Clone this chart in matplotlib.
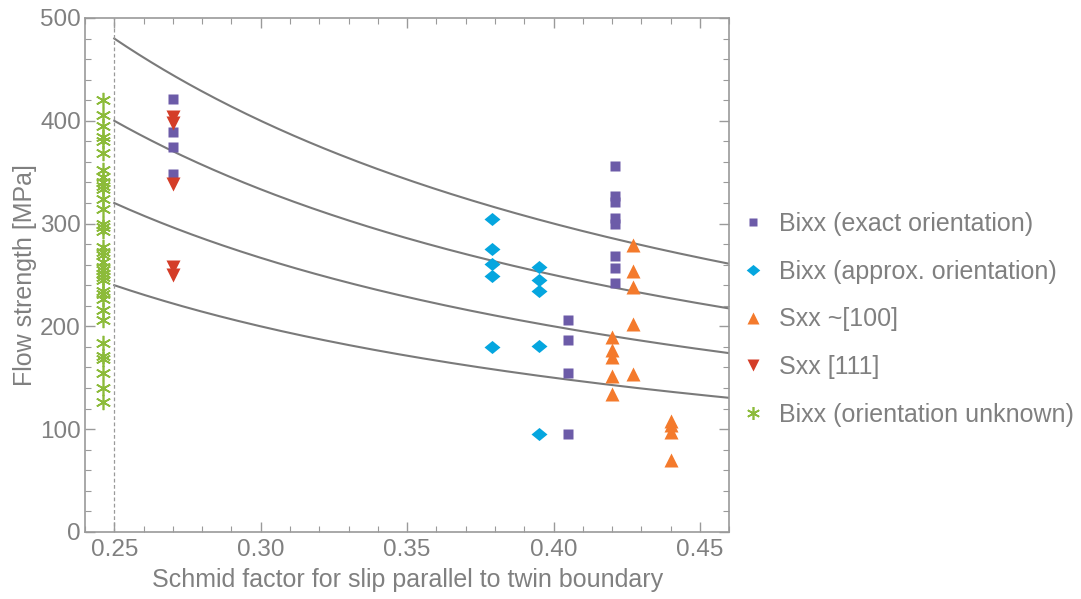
import matplotlib.pyplot as plt
import numpy as np
from matplotlib.ticker import MultipleLocator

plt.rcParams['font.family'] = ['Liberation Sans', 'DejaVu Sans']

# Bixx, exact orientation
exact_x = [0.270, 0.270, 0.270, 0.270,
           0.405, 0.405, 0.405, 0.405,
           0.421, 0.421, 0.421, 0.421, 0.421, 0.421, 0.421, 0.421]
exact_y = [421, 389, 374, 348,
           206, 187, 155, 95,
           356, 327, 321, 305, 300, 268, 257, 242]

# Bixx, approx. orientation
approx_x = [0.379, 0.379, 0.379, 0.379, 0.379,
            0.395, 0.395, 0.395, 0.395, 0.395]
approx_y = [304, 275, 261, 249, 180,
            258, 245, 234, 181, 95]

# Sxx ~[100]
s100_x = [0.420, 0.420, 0.420, 0.420, 0.420,
          0.427, 0.427, 0.427, 0.427, 0.427,
          0.440, 0.440, 0.440, 0.440]
s100_y = [190, 177, 170, 152, 134,
          279, 254, 238, 202, 154,
          108, 104, 97, 70]

# Sxx [111]
s111_x = [0.270, 0.270, 0.270, 0.270, 0.270]
s111_y = [404, 398, 338, 258, 250]

# Bixx, orientation unknown
unk_y = [420, 406, 395, 384, 380, 369, 352, 345, 340, 337, 334, 324, 314,
         300, 297, 293, 277, 272, 269, 263, 258, 255, 251, 248, 245, 234,
         231, 227, 216, 206, 184, 171, 168, 155, 140, 126]
unk_x = [0.246] * len(unk_y)

# resolved shear stress levels for the guide curves
crss = [120, 100, 80, 60]

gray_txt = '#808080'
gray_frame = '#9a9a9a'

# slightly flattened diamond like the original
diamond = [(-1, 0), (0, 0.82), (1, 0), (0, -0.82), (-1, 0)]

fig = plt.figure(figsize=(10.81, 5.99), dpi=100)
ax = fig.add_axes([0.0786, 0.112, 0.596, 0.858])

xs = np.linspace(0.25, 0.46, 200)
for c in crss:
    ax.plot(xs, c / xs, color='#7a7a7a', lw=1.5, zorder=1)
ax.axvline(0.25, color='#9a9a9a', lw=0.9, ls=(0, (3, 2)), zorder=1)

ax.plot(exact_x, exact_y, 's', color='#6c5ba8', ms=7.3, mec='none',
        label='Bixx (exact orientation)', zorder=3)
ax.plot(approx_x, approx_y, marker=diamond, ls='none', color='#05a6df',
        ms=11.5, mec='none', label='Bixx (approx. orientation)', zorder=3)
ax.plot(s100_x, s100_y, '^', color='#f47a2c', ms=9.5, mec='none',
        label='Sxx ~[100]', zorder=3)
ax.plot(s111_x, s111_y, 'v', color='#d43d28', ms=9.5, mec='none',
        label='Sxx [111]', zorder=3)
ax.plot(unk_x, unk_y, marker=(6, 2, 0), ls='none', color='#8cbb3a', ms=11,
        mew=1.2, label='Bixx (orientation unknown)', zorder=3)

ax.set_xlim(0.24, 0.46)
ax.set_ylim(0, 500)
ax.xaxis.set_major_locator(MultipleLocator(0.05))
ax.xaxis.set_minor_locator(MultipleLocator(0.01))
ax.yaxis.set_major_locator(MultipleLocator(100))
ax.yaxis.set_minor_locator(MultipleLocator(20))
ax.xaxis.set_major_formatter(plt.FuncFormatter(lambda v, p: f'{v:.2f}'))

ax.tick_params(which='both', direction='in', top=True, right=True,
               color=gray_frame, labelcolor=gray_txt, labelsize=17.5)
ax.tick_params(which='major', length=7, width=1)
ax.tick_params(which='minor', length=4, width=0.8)
ax.tick_params(axis='x', pad=5)
ax.tick_params(axis='y', pad=3)
for s in ax.spines.values():
    s.set_color(gray_frame)
    s.set_linewidth(1.2)

ax.set_xlabel('Schmid factor for slip parallel to twin boundary',
              fontsize=18, color=gray_txt, labelpad=5)
ax.set_ylabel('Flow strength [MPa]', fontsize=18, color=gray_txt, labelpad=2)

fig.legend(loc='center left', bbox_to_anchor=(0.6665, 0.467), frameon=False,
           fontsize=18, labelcolor=gray_txt, markerscale=0.85,
           handlelength=0.8, handletextpad=0.64, labelspacing=0.95)

fig.savefig('out.png', dpi=100)
